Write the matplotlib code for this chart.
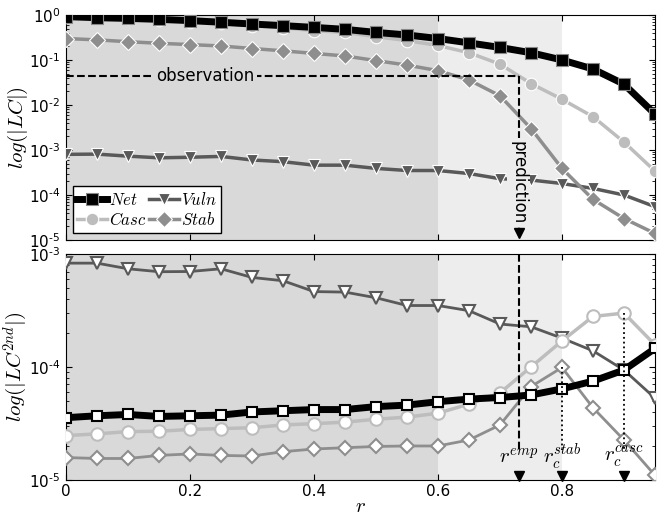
import numpy as np
import matplotlib
matplotlib.use('Agg')
import matplotlib.pyplot as plt
from matplotlib.ticker import FuncFormatter

plt.rcParams['mathtext.fontset'] = 'cm'
plt.rcParams['xtick.direction'] = 'in'
plt.rcParams['ytick.direction'] = 'in'
plt.rcParams['xtick.top'] = True
plt.rcParams['ytick.right'] = True
plt.rcParams['xtick.major.size'] = 4
plt.rcParams['ytick.major.size'] = 4
plt.rcParams['ytick.minor.size'] = 2
plt.rcParams['xtick.major.pad'] = 3
plt.rcParams['ytick.major.pad'] = 4
plt.rcParams['font.size'] = 11

# data
r = np.round(np.arange(0, 0.951, 0.05), 2)

net = [0.92, 0.87, 0.84, 0.80, 0.75, 0.69, 0.63, 0.58, 0.53, 0.48,
       0.41, 0.36, 0.30, 0.24, 0.19, 0.145, 0.10, 0.063, 0.029, 0.0063]
casc = [0.90, 0.88, 0.85, 0.77, 0.71, 0.65, 0.58, 0.52, 0.45, 0.41,
        0.33, 0.27, 0.21, 0.145, 0.081, 0.030, 0.0134, 0.0055, 0.0015, 0.00034]
stab = [0.30, 0.28, 0.255, 0.235, 0.22, 0.205, 0.18, 0.16, 0.14, 0.123,
        0.097, 0.077, 0.058, 0.036, 0.016, 0.0030, 0.00039, 8e-5, 3.0e-5, 1.4e-5]
vuln = [8.0e-4, 8.1e-4, 7.3e-4, 6.7e-4, 6.9e-4, 7.2e-4, 6.0e-4, 5.5e-4, 4.6e-4, 4.6e-4,
        3.9e-4, 3.5e-4, 3.5e-4, 3.0e-4, 2.3e-4, 2.15e-4, 1.8e-4, 1.4e-4, 1.0e-4, 5.5e-5]

net2 = [3.56e-5, 3.7e-5, 3.8e-5, 3.65e-5, 3.7e-5, 3.75e-5, 4.0e-5, 4.1e-5, 4.2e-5, 4.2e-5,
        4.46e-5, 4.6e-5, 4.93e-5, 5.2e-5, 5.37e-5, 5.65e-5, 6.4e-5, 7.5e-5, 9.4e-5, 1.46e-4]
casc2 = [2.47e-5, 2.56e-5, 2.68e-5, 2.7e-5, 2.8e-5, 2.85e-5, 2.9e-5, 3.07e-5, 3.15e-5, 3.25e-5,
         3.45e-5, 3.6e-5, 3.9e-5, 4.7e-5, 5.9e-5, 1.0e-4, 1.7e-4, 2.8e-4, 3.0e-4, 1.57e-4]
stab2 = [1.58e-5, 1.55e-5, 1.55e-5, 1.65e-5, 1.7e-5, 1.65e-5, 1.63e-5, 1.78e-5, 1.88e-5, 1.93e-5,
         1.98e-5, 2.0e-5, 2.0e-5, 2.26e-5, 3.07e-5, 6.7e-5, 9.9e-5, 4.36e-5, 2.26e-5, 1.1e-5]
vuln2 = [8.3e-4, 8.3e-4, 7.4e-4, 6.97e-4, 7.0e-4, 7.4e-4, 6.2e-4, 5.8e-4, 4.65e-4, 4.6e-4,
         4.1e-4, 3.5e-4, 3.5e-4, 3.15e-4, 2.4e-4, 2.27e-4, 1.8e-4, 1.39e-4, 9.4e-5, 5.3e-5]

r_emp = 0.73
r_stab = 0.8
r_casc = 0.9
obs_level = 0.043

c_net = 'black'
c_vuln = '#595959'
c_casc = '#bdbdbd'
c_stab = '#8e8e8e'
bg1 = '#d9d9d9'
bg2 = '#ededed'


def pow10(v, pos):
    e = int(round(np.log10(v)))
    s = str(e).replace('-', '\u2010')
    return r'$\mathdefault{10^{%s}}$' % s


fig = plt.figure(figsize=(6.64, 5.17), dpi=100)
ax1 = fig.add_axes([0.0994, 0.5358, 0.887, 0.4352])
ax2 = fig.add_axes([0.0994, 0.0716, 0.887, 0.4371])

for ax in (ax1, ax2):
    ax.axvspan(0, 0.6, color=bg1, lw=0, zorder=0)
    ax.axvspan(0.6, 0.8, color=bg2, lw=0, zorder=0)
    ax.set_yscale('log')
    ax.set_xlim(0, 0.95)

# top panel
ax1.plot(r, vuln, '-v', color=c_vuln, lw=2.5, ms=9, mec='white', mew=0.8, label='$Vuln$', zorder=3)
ax1.plot(r, stab, '-D', color=c_stab, lw=2.5, ms=8, mec='white', mew=0.8, label='$Stab$', zorder=3)
ax1.plot(r, casc, '-o', color=c_casc, lw=2.5, ms=9, mec='white', mew=0.8, label='$Casc$', zorder=4)
ax1.plot(r, net, '-s', color=c_net, lw=5, ms=9, mec='#888888', mew=0.8, label='$Net$', zorder=5)
ax1.set_ylim(1e-5, 1)
ax1.yaxis.set_major_formatter(FuncFormatter(pow10))
ax1.set_xticklabels([])
ax1.set_ylabel('$log(|LC|)$', fontsize=15)
ax1.yaxis.set_label_coords(-0.061, 0.5)

ax1.plot([0, r_emp], [obs_level, obs_level], 'k--', lw=1.5, zorder=6)
ax1.text(0.225, obs_level, 'observation', ha='center', va='center', fontsize=12,
         bbox=dict(facecolor=bg1, edgecolor='none', pad=2), zorder=7)
ax1.plot([r_emp, r_emp], [obs_level, 1.5e-5], 'k--', lw=1.5, zorder=6)
ax1.text(r_emp, 1.9e-4, 'prediction', rotation=270, ha='center', va='center', fontsize=12,
         bbox=dict(facecolor=bg2, edgecolor='none', pad=2), zorder=7)
ax1.plot([r_emp], [1.4e-5], 'kv', ms=7, zorder=8, clip_on=False)

h, l = ax1.get_legend_handles_labels()
order = [3, 2, 0, 1]
ax1.legend([h[i] for i in order], [l[i] for i in order], loc='lower left', ncol=2,
           fancybox=False, edgecolor='black', framealpha=1, fontsize=12,
           handlelength=1.8, columnspacing=0.2, handletextpad=0.1, borderpad=0.25,
           labelspacing=0.15, borderaxespad=0.4)

# bottom panel
ax2.plot(r, vuln2, '-v', color=c_vuln, lw=2, ms=9, mfc='white', mec=c_vuln, mew=1.5, zorder=3)
ax2.plot(r, stab2, '-D', color=c_stab, lw=2, ms=7, mfc='white', mec=c_stab, mew=1.5, zorder=3)
ax2.plot(r, casc2, '-o', color=c_casc, lw=2.5, ms=9, mfc='white', mec=c_casc, mew=1.5, zorder=4)
ax2.plot(r, net2, '-s', color=c_net, lw=5, ms=7, mfc='white', mec=c_net, mew=1.5, zorder=5)
ax2.set_ylim(1e-5, 1e-3)
ax2.yaxis.set_major_formatter(FuncFormatter(pow10))
ax2.set_xticks([0, 0.2, 0.4, 0.6, 0.8])
ax2.set_xticklabels(['0', '0.2', '0.4', '0.6', '0.8'])
ax2.set_ylabel('$log(|LC^{2nd}|)$', fontsize=15)
ax2.yaxis.set_label_coords(-0.061, 0.5)
ax2.set_xlabel('$r$', fontsize=15, labelpad=-2)

ax2.plot([r_emp, r_emp], [1e-3, 1.85e-5], 'k--', lw=1.5, zorder=6)
ax2.plot([r_stab, r_stab], [stab2[16], 1.85e-5], 'k:', lw=1.3, zorder=6)
ax2.plot([r_casc, r_casc], [casc2[18], 1.85e-5], 'k:', lw=1.3, zorder=6)
ax2.text(r_emp, 1.6e-5, '$r^{emp}$', ha='center', va='center', fontsize=15, zorder=7)
ax2.text(r_stab, 1.6e-5, '$r_c^{stab}$', ha='center', va='center', fontsize=15, zorder=7)
ax2.text(r_casc, 1.6e-5, '$r_c^{casc}$', ha='center', va='center', fontsize=15, zorder=7)
ax2.plot([r_emp, r_stab, r_casc], [1.08e-5] * 3, 'kv', ms=7, zorder=8, clip_on=False)

fig.savefig('out.png', dpi=100)
